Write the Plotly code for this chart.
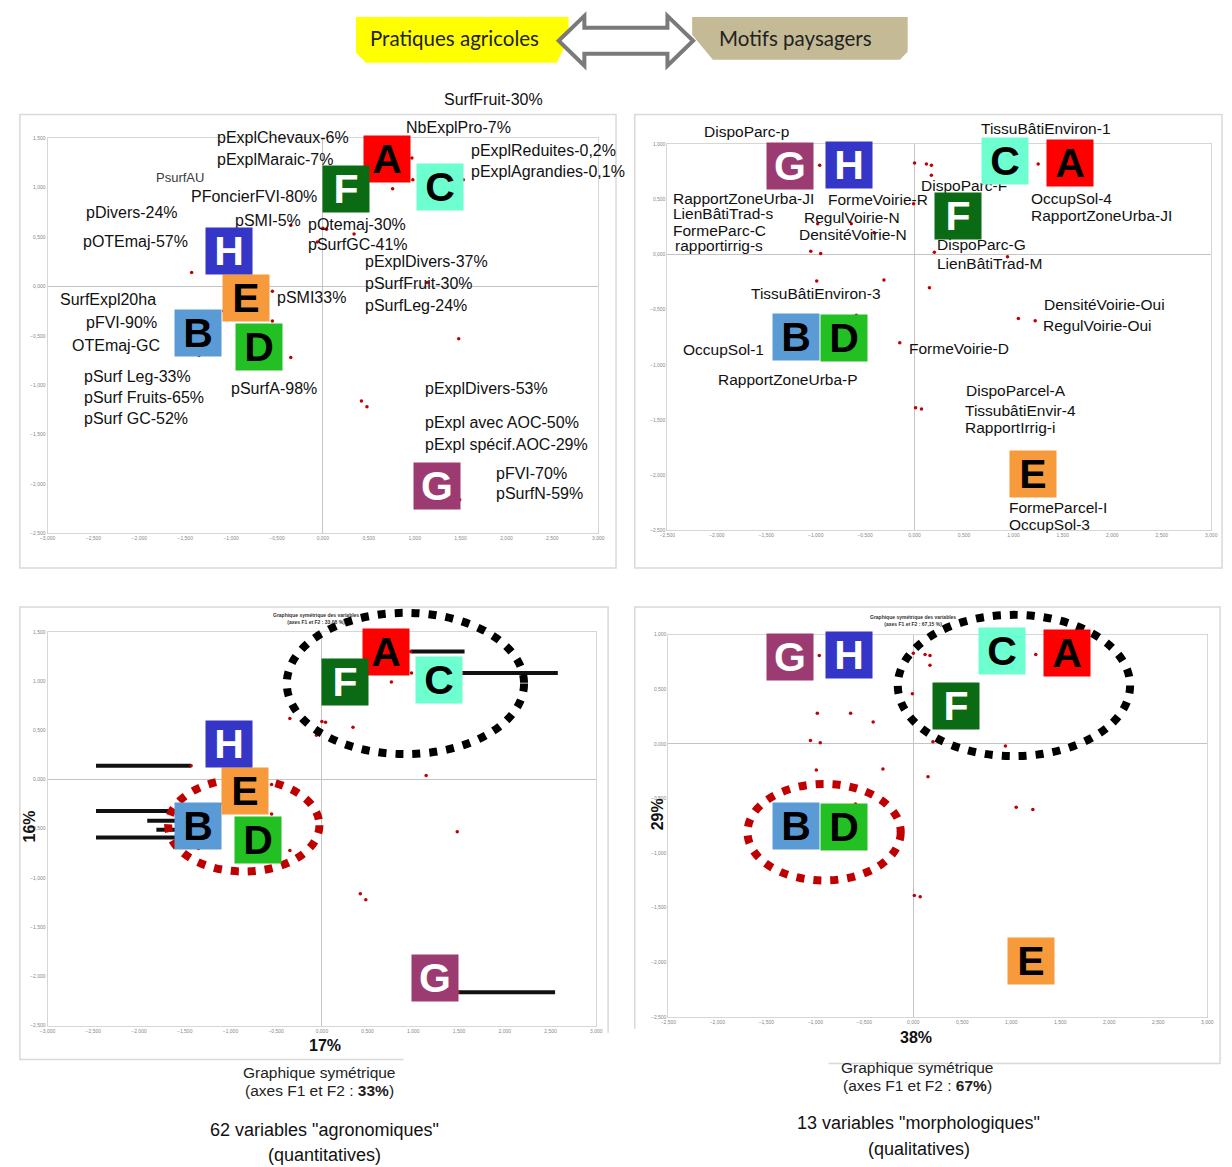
import plotly.graph_objects as go

W, H = 1232, 1167

# ---------------- DATA ----------------
letters = ["A", "B", "C", "D", "E", "F", "G", "H"]
letter_bg = ["#ff0000", "#5b9bd5", "#6effd0", "#22c022", "#f79a3c", "#0b6b14", "#9c3b71", "#3535c8"]
letter_fg = ["#000000", "#000000", "#000000", "#000000", "#000000", "#ffffff", "#ffffff", "#ffffff"]

# group centroids (F1, F2) - agronomic analysis (left panels)
agro_grp_x = [0.70, -1.36, 1.28, -0.70, -0.84, 0.25, 1.24, -1.02]
agro_grp_y = [1.29, -0.47, 1.01, -0.61, -0.12, 0.99, -2.02, 0.36]
# group centroids (F1, F2) - morphological analysis (right panels)
morpho_grp_x = [1.57, -1.20, 0.91, -0.71, 1.20, 0.44, -1.26, -0.66]
morpho_grp_y = [0.83, -0.75, 0.85, -0.76, -1.99, 0.35, 0.80, 0.81]

# variable coordinates (visible points)
agro_pts_x = [0.76, 0.98, 0.34, 1.48, 0.42, 0.48, -0.55, -0.35, -1.35, -0.55, -1.08,
              1.14, 0.00, 0.04, -0.06, -0.35, -1.43, -1.45, -1.50, 0.97, 1.53, 1.49]
agro_pts_y = [0.99, 1.08, 0.53, -0.53, -1.16, -1.22, -0.05, -0.72, -0.70, -0.35, -0.25,
              0.04, 0.59, 0.58, 0.45, 0.62, 0.14, -0.32, -0.59, 1.30, 1.08, -2.16]
morpho_pts_x = [-0.96, 0.00, 0.12, 0.17, 0.17, -1.05, -0.95, -0.99, -0.31, 0.20, 0.15,
                -0.15, 0.01, 0.07, -0.59, 1.25, 1.05, 1.22, 0.94, -0.98, -0.64, -0.41, -0.01]
morpho_pts_y = [0.81, 0.83, 0.82, 0.81, 0.72, 0.03, 0.01, -0.24, -0.23, 0.02, -0.30,
                -0.80, -1.39, -1.40, -0.55, 0.82, -0.58, -0.60, -0.02, 0.28, 0.28, 0.20, 0.46]

# overlapping label smears (bottom-left chart)
smear_x0 = [-2.47, -2.47, -1.91, -1.81, -2.47, 0.97, 1.53, 1.49]
smear_x1 = [-1.43, -1.45, -1.48, -1.55, -1.50, 1.56, 2.58, 2.55]
smear_y = [0.14, -0.32, -0.42, -0.51, -0.59, 1.30, 1.08, -2.16]

agro_lab_text = ["SurfFruit-30%", "NbExplPro-7%", "pExplChevaux-6%", "pExplMaraic-7%",
                 "pExplReduites-0,2%", "pExplAgrandies-0,1%", "PFoncierFVI-80%", "pDivers-24%",
                 "pSMI-5%", "pOtemaj-30%", "pOTEmaj-57%", "pSurfGC-41%", "pExplDivers-37%",
                 "pSurfFruit-30%", "SurfExpl20ha", "pSMI33%", "pSurfLeg-24%", "pFVI-90%",
                 "OTEmaj-GC", "pSurf Leg-33%", "pSurf Fruits-65%", "pSurf GC-52%", "pSurfA-98%",
                 "pExplDivers-53%", "pExpl avec AOC-50%", "pExpl spécif.AOC-29%", "pFVI-70%",
                 "pSurfN-59%"]
agro_lab_x = [1.31, 0.90, -1.16, -1.16, 1.60, 1.60, -1.45, -2.59, -0.97, -0.17, -2.62, -0.17,
              0.45, 0.45, -2.87, -0.51, 0.45, -2.59, -2.74, -2.61, -2.61, -2.61, -1.01, 1.10,
              1.10, 1.10, 1.87, 1.87]
agro_lab_y = [1.89, 1.61, 1.51, 1.29, 1.38, 1.16, 0.91, 0.75, 0.67, 0.63, 0.45, 0.42, 0.25,
              0.03, -0.13, -0.11, -0.19, -0.37, -0.60, -0.91, -1.12, -1.34, -1.03, -1.03,
              -1.38, -1.60, -1.89, -2.10]
agro_small_text = ["PsurfAU"]
agro_small_x = [-1.84]
agro_small_y = [1.10]

morpho_lab_text = ["DispoParc-p", "TissuBâtiEnviron-1", "RapportZoneUrba-JI", "LienBâtiTrad-s",
                   "FormeParc-C", "rapportirrig-s", "FormeVoirie-R", "RegulVoirie-N",
                   "DensitéVoirie-N", "DispoParc-F", "DispoParc-G", "LienBâtiTrad-M", "OccupSol-4",
                   "RapportZoneUrba-JI", "TissuBâtiEnviron-3", "DensitéVoirie-Oui",
                   "RegulVoirie-Oui", "OccupSol-1", "FormeVoirie-D", "RapportZoneUrba-P",
                   "DispoParcel-A", "TissubâtiEnvir-4", "RapportIrrig-i", "FormeParcel-I",
                   "OccupSol-3"]
morpho_lab_x = [-2.14, 0.66, -2.45, -2.45, -2.45, -2.43, -0.89, -1.13, -1.18, 0.05, 0.22, 0.22,
                1.17, 1.17, -1.66, 1.30, 1.29, -2.35, -0.07, -2.00, 0.51, 0.50, 0.50, 0.94, 0.94]
morpho_lab_y = [1.12, 1.14, 0.51, 0.37, 0.22, 0.08, 0.50, 0.34, 0.18, 0.63, 0.09, -0.08, 0.51,
                0.35, -0.35, -0.45, -0.64, -0.86, -0.85, -1.13, -1.23, -1.41, -1.57, -2.29, -2.45]

agro_x_range = [-3, 3]
agro_y_range = [-2.5, 1.5]
morpho_x_range = [-2.5, 3]
morpho_y_range = [-2.5, 1]

# ---------------- FIGURE ----------------
def X(p):
    return p / W


def Y(p):
    return 1 - p / H


FONT = "Liberation Sans, Arial, sans-serif"
fig = go.Figure()
annotations = []
shapes = []

panels = [
    # axis suffix, px domain x, px domain y, kind, labelled
    ("", (40, 597), (136, 533), "agro", True),
    ("2", (667, 1217), (142, 530), "morpho", True),
    ("3", (40, 595), (632, 1028), "agro", False),
    ("4", (668, 1213), (635, 1019), "morpho", False),
]


def place(xv, yv, xr, yr, dx, dy, xref, yref):
    """Annotation position: axis refs if inside the range, else paper
    coordinates computed from the same axis scale."""
    if xr[0] <= xv <= xr[1] and yr[0] <= yv <= yr[1]:
        return dict(x=xv, y=yv, xref=xref, yref=yref)
    fx = dx[0] + (xv - xr[0]) / (xr[1] - xr[0]) * (dx[1] - dx[0])
    fy = dy[0] + (yv - yr[0]) / (yr[1] - yr[0]) * (dy[1] - dy[0])
    return dict(x=fx, y=fy, xref="paper", yref="paper")


for suf, (x0, x1), (y0, y1), kind, top in panels:
    xr = agro_x_range if kind == "agro" else morpho_x_range
    yr = agro_y_range if kind == "agro" else morpho_y_range
    dx = [X(x0), X(x1)]
    dy = [Y(y1), Y(y0)]
    common = dict(showgrid=False, zeroline=True, zerolinecolor="#c4c4c4", zerolinewidth=1,
                  showline=True, linecolor="#d6d6d6", linewidth=1, mirror=True, ticks="",
                  dtick=0.5, tick0=0, tickformat=".3f",
                  tickfont=dict(size=5, color="#888888", family=FONT), fixedrange=True)
    ax = dict(domain=dx, range=xr, anchor="y" + suf, **common)
    ay = dict(domain=dy, range=yr, anchor="x" + suf, **common)
    fig.update_layout(**{"xaxis" + suf: ax, "yaxis" + suf: ay})
    xref, yref = "x" + suf, "y" + suf

    px_ = agro_pts_x if kind == "agro" else morpho_pts_x
    py_ = agro_pts_y if kind == "agro" else morpho_pts_y

    if kind == "agro" and not top:
        sx, sy = [], []
        for a, b, c in zip(smear_x0, smear_x1, smear_y):
            sx += [a, b, None]
            sy += [c, c, None]
        fig.add_trace(go.Scatter(x=sx, y=sy, mode="lines", xaxis=xref, yaxis=yref,
                                 line=dict(color="#111111", width=4), hoverinfo="skip",
                                 showlegend=False))

    fig.add_trace(go.Scatter(x=px_, y=py_, mode="markers", xaxis=xref, yaxis=yref,
                             marker=dict(color="#c00000", size=3.5), showlegend=False,
                             hoverinfo="skip"))

    if top:
        if kind == "agro":
            texts, lx, ly, fs = agro_lab_text, agro_lab_x, agro_lab_y, 16
            for t, a, b in zip(agro_small_text, agro_small_x, agro_small_y):
                annotations.append(dict(text=t, showarrow=False, xanchor="left", yanchor="middle",
                                        font=dict(family=FONT, size=13, color="#3a3a3a"),
                                        **place(a, b, xr, yr, dx, dy, xref, yref)))
        else:
            texts, lx, ly, fs = morpho_lab_text, morpho_lab_x, morpho_lab_y, 15.5
        for t, a, b in zip(texts, lx, ly):
            annotations.append(dict(text=t, showarrow=False, xanchor="left", yanchor="middle",
                                    borderpad=0, font=dict(family=FONT, size=fs, color="#111111"),
                                    **place(a, b, xr, yr, dx, dy, xref, yref)))

    gx = agro_grp_x if kind == "agro" else morpho_grp_x
    gy = agro_grp_y if kind == "agro" else morpho_grp_y
    for L, bg, fg, a, b in zip(letters, letter_bg, letter_fg, gx, gy):
        annotations.append(dict(text="<b>" + L + "</b>", showarrow=False, xanchor="center",
                                yanchor="middle", bgcolor=bg, width=46, height=46, borderpad=0,
                                valign="middle", font=dict(family=FONT, size=41, color=fg),
                                **place(a, b, xr, yr, dx, dy, xref, yref)))


def pnote(text, xx, yy, size, color="#111111", family=FONT, angle=0):
    return dict(x=X(xx), y=Y(yy), xref="paper", yref="paper", showarrow=False, text=text,
                xanchor="center", yanchor="middle", textangle=angle,
                font=dict(family=family, size=size, color=color))


# tiny chart titles (bottom panels)
annotations.append(pnote("<b>Graphique symétrique des variables<br>(axes F1 et F2 : 33,08 %)</b>",
                         312, 619, 5, "#333333"))
annotations.append(pnote("<b>Graphique symétrique des variables<br>(axes F1 et F2 : 67,15 %)</b>",
                         915, 621, 5, "#333333"))

# axis inertia labels
annotations += [
    pnote("<b>17%</b>", 321, 1048, 16),
    pnote("<b>38%</b>", 918, 1040, 16),
    pnote("<b>16%</b>", 22, 828, 16, angle=-90),
    pnote("<b>29%</b>", 657, 816, 16, angle=-90),
]

# captions
annotations += [
    pnote("Graphique symétrique", 315, 1075, 15.5, "#222222"),
    pnote("(axes F1 et F2 : <b>33%</b>)", 315, 1093, 15.5, "#222222"),
    pnote("Graphique symétrique", 920, 1070, 15.5, "#222222"),
    pnote("(axes F1 et F2 : <b>67%</b>)", 920, 1088, 15.5, "#222222"),
    pnote('62 variables "agronomiques"', 320, 1133, 18),
    pnote("(quantitatives)", 320, 1158, 18),
    pnote('13 variables "morphologiques"', 921, 1126, 18),
    pnote("(qualitatives)", 921, 1152, 18),
]

# header
annotations += [
    pnote("Pratiques agricoles", 452, 35, 20.5, "#222222", "Lato, sans-serif"),
    pnote("Motifs paysagers", 797, 35, 20.5, "#222222", "Lato, sans-serif"),
]


def path(points, close=True):
    s = "M " + " L ".join(f"{X(a):.5f},{Y(b):.5f}" for a, b in points)
    return s + (" Z" if close else "")


# frames
frame_line = dict(color="#d9d9d9", width=1.5)
shapes += [
    dict(type="path", xref="paper", yref="paper", path=path([(12, 112), (615, 112), (615, 568), (12, 568)]), line=frame_line, layer="below"),
    dict(type="path", xref="paper", yref="paper", path=path([(634, 112), (1228, 112), (1228, 568), (634, 568)]), line=frame_line, layer="below"),
    dict(type="path", xref="paper", yref="paper", path=path([(400, 1062), (12, 1062), (12, 607), (607, 607), (607, 1035)], close=False), line=frame_line, layer="below"),
    dict(type="path", xref="paper", yref="paper", path=path([(634, 1031), (634, 607), (1226, 607), (1226, 1066), (830, 1066)], close=False), line=frame_line, layer="below"),
]

# header shapes
shapes += [
    dict(type="path", xref="paper", yref="paper",
         path=path([(352, 14), (567, 14), (567, 36), (555, 60), (362, 60), (352, 50)]),
         fillcolor="#ffff00", line=dict(width=0)),
    dict(type="path", xref="paper", yref="paper",
         path=path([(692, 14), (910, 14), (910, 49), (902, 57), (713, 57), (692, 32)]),
         fillcolor="#c4bb96", line=dict(width=0)),
    dict(type="path", xref="paper", yref="paper",
         path=path([(557, 38), (583, 13), (583, 25), (667, 25), (667, 13), (693, 38),
                    (667, 63), (667, 51), (583, 51), (583, 63)]),
         fillcolor="#ffffff", line=dict(color="#7a7a7a", width=4)),
]

# dotted ellipses
for (a, b, c, d, col) in [(282, 613, 522, 755, "#000000"), (162, 780, 315, 873, "#c00000"),
                          (900, 615, 1135, 757, "#000000"), (748, 785, 903, 882, "#c00000")]:
    shapes.append(dict(type="circle", xref="paper", yref="paper", x0=X(a), x1=X(c), y0=Y(d), y1=Y(b),
                       line=dict(color=col, width=8, dash="8px,9px")))

fig.update_layout(width=W, height=H, autosize=False, margin=dict(l=0, r=0, t=0, b=0, pad=0),
                  paper_bgcolor="white", plot_bgcolor="white", separators=", ",
                  annotations=annotations, shapes=shapes, showlegend=False)

post = (
    "var d=document.getElementById('{plot_id}');"
    "document.documentElement.style.margin='0';document.documentElement.style.padding='0';"
    "document.documentElement.style.overflow='hidden';"
    "document.body.style.margin='0';document.body.style.padding='0';"
    "document.body.style.overflow='hidden';"
    "if(d){d.style.position='fixed';d.style.left='0px';d.style.top='0px';d.style.margin='0';}"
)
fig.write_html("out.html", config={"displayModeBar": False, "responsive": False},
               post_script=post)
